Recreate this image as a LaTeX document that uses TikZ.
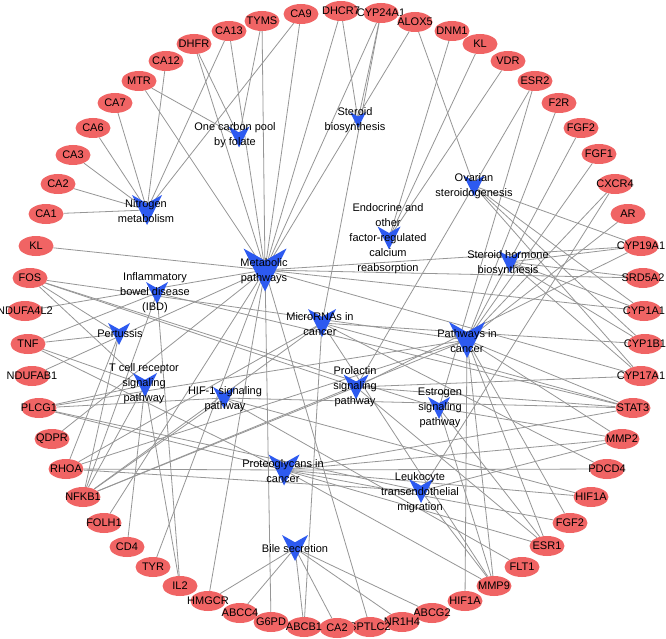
\documentclass[tikz,border=0pt]{standalone}
\usepackage{fontspec}
\setmainfont{Liberation Sans}
\usetikzlibrary{shapes.geometric}
\definecolor{nodered}{RGB}{240,100,100}
\definecolor{vblue}{RGB}{45,90,240}
\definecolor{edgegray}{RGB}{150,150,150}
\pgfdeclarelayer{edgelayer}
\pgfdeclarelayer{bglayer}
\pgfsetlayers{bglayer,edgelayer,main}
\newcommand{\gn}[4]{\node[gene, label={[genetext]center:#4}] (#1) at (#2,#3) {};}
\newcommand{\pw}[7]{%
  \coordinate (#1) at (#2,#3);
  \fill[vblue, shift={(#2,#3)}, scale=#4] (-0.5,-0.5) -- (0,-0.22) -- (0.5,-0.5) -- (0,0.5) -- cycle;
  \node[pwtext] (#1-l) at (#5,#6) {#7};}
\begin{document}
\begin{tikzpicture}[x=1pt,y=-1pt,
  gene/.style={ellipse, fill=nodered, minimum width=35pt, minimum height=20pt, inner sep=0pt},
  genetext/.style={font=\fontsize{11}{13}\selectfont, text=black, inner sep=0pt},
  pwtext/.style={font=\fontsize{11}{15}\selectfont, align=center, inner sep=0pt, text=black},
  edge/.style={draw=edgegray, line width=0.8pt}]
\begin{pgfonlayer}{bglayer}
\fill[white] (0,0) rectangle (666,639);
\end{pgfonlayer}
\useasboundingbox (0,0) rectangle (666,639);
% genes
\gn{dhcr7}{341}{11}{DHCR7}
\gn{cyp24}{381}{13}{CYP24A1}
\gn{alox5}{415}{22}{ALOX5}
\gn{dnm1}{452}{31}{DNM1}
\gn{klr}{480}{44}{KL}
\gn{vdr}{508}{61}{VDR}
\gn{esr2}{535}{81}{ESR2}
\gn{f2r}{559}{103}{F2R}
\gn{fgfa}{581}{128}{FGF2}
\gn{fgf1}{599}{154}{FGF1}
\gn{cxcr4}{615}{184}{CXCR4}
\gn{ar}{628}{214}{AR}
\gn{cyp19}{641}{246}{CYP19A1}
\gn{srd}{643}{278}{SRD5A2}
\gn{cyp1a}{644}{311}{CYP1A1}
\gn{cyp1b}{645}{344}{CYP1B1}
\gn{cyp17}{641}{376}{CYP17A1}
\gn{stat3}{633}{408}{STAT3}
\gn{mmp2}{622}{439}{MMP2}
\gn{pdcd4}{607}{469}{PDCD4}
\gn{hifa}{591}{497}{HIF1A}
\gn{fgfb}{570}{523}{FGF2}
\gn{esr1}{547}{546}{ESR1}
\gn{flt1}{522}{567}{FLT1}
\gn{mmp9}{494}{586}{MMP9}
\gn{hifb}{465}{601}{HIF1A}
\gn{abcg2}{432}{613}{ABCG2}
\gn{nr1h4}{402}{622}{NR1H4}
\gn{sptlc2}{370}{627}{SPTLC2}
\gn{cab}{337}{628}{CA2}
\gn{abcb1}{304}{627}{ABCB1}
\gn{g6pd}{271}{622}{G6PD}
\gn{abcc4}{240}{613}{ABCC4}
\gn{hmgcr}{208}{601}{HMGCR}
\gn{il2}{180}{586}{IL2}
\gn{tyr}{153}{567}{TYR}
\gn{cd4}{127}{547}{CD4}
\gn{folh1}{104}{523}{FOLH1}
\gn{nfkb1}{83}{497}{NFKB1}
\gn{rhoa}{66}{469}{RHOA}
\gn{qdpr}{52}{439}{QDPR}
\gn{plcg1}{39}{408}{PLCG1}
\gn{ndufab1}{32}{376}{NDUFAB1}
\gn{tnf}{28}{344}{TNF}
\gn{ndufa}{25}{311}{NDUFA4L2}
\gn{fos}{30}{278}{FOS}
\gn{kll}{36}{246}{KL}
\gn{ca1}{46}{214}{CA1}
\gn{caa}{58}{184}{CA2}
\gn{ca3}{73}{155}{CA3}
\gn{ca6}{93}{128}{CA6}
\gn{ca7}{115}{103}{CA7}
\gn{mtr}{139}{81}{MTR}
\gn{ca12}{166}{61}{CA12}
\gn{dhfr}{194}{44}{DHFR}
\gn{ca13}{229}{31}{CA13}
\gn{tyms}{262}{21}{TYMS}
\gn{ca9}{301}{14}{CA9}
% pathways
\pw{nit}{147}{210}{30}{146}{211}{Nitrogen\\metabolism}
\pw{onec}{239}{137}{21}{235}{135}{One carbon pool\\by folate}
\pw{sterb}{358}{120}{16}{355}{120}{Steroid\\biosynthesis}
\pw{ovar}{474}{186}{21}{474}{186}{Ovarian\\steroidogenesis}
\pw{endo}{389}{238}{23}{388}{239}{Endocrine and\\other\\factor-regulated\\calcium\\reabsorption}
\pw{meta}{265}{270}{43}{264}{271}{Metabolic\\pathways}
\pw{sthr}{510}{262}{22}{508}{263}{Steroid hormone\\biosynthesis}
\pw{ibd}{157}{293}{22}{155}{293}{Inflammatory\\bowel disease\\(IBD)}
\pw{mir}{322}{323}{28}{320}{324}{MicroRNAs in\\cancer}
\pw{pic}{467}{340}{36}{467}{341}{Pathways in\\cancer}
\pw{pert}{119}{334}{22}{120}{334}{Pertussis}
\pw{tcr}{145}{385}{24}{144}{384}{T cell receptor\\signaling\\pathway}
\pw{hif}{224}{398}{22}{225}{399}{HIF-1 signaling\\pathway}
\pw{prl}{356}{387}{25}{355}{387}{Prolactin\\signaling\\pathway}
\pw{est}{439}{408}{22}{440}{408}{Estrogen\\signaling\\pathway}
\pw{pg}{284}{470}{31}{283}{471}{Proteoglycans in\\cancer}
\pw{leuk}{421}{491}{24}{420}{493}{Leukocyte\\transendothelial\\migration}
\pw{bile}{295}{548}{26}{295}{549}{Bile secretion}
% edges
\begin{pgfonlayer}{edgelayer}
\foreach \a/\b in {
 nit/ca1, nit/caa, nit/ca3, nit/ca6, nit/ca7, nit/ca12, nit/ca13, nit/ca9,
 onec/mtr, onec/dhfr, onec/tyms,
 sterb/dhcr7, sterb/cyp24,
 meta/mtr, meta/dhfr, meta/ca13, meta/tyms, meta/ca9, meta/dhcr7, meta/cyp24, meta/alox5,
 meta/cyp19, meta/srd, meta/cyp1a, meta/cyp17, meta/sptlc2, meta/g6pd, meta/hmgcr, meta/tyr,
 meta/folh1, meta/qdpr, meta/ndufab1, meta/ndufa, meta/kll,
 endo/dnm1, endo/klr, endo/vdr,
 ovar/alox5, ovar/cyp19, ovar/cyp1a, ovar/cyp1b, ovar/cyp17,
 sthr/cyp19, sthr/srd, sthr/cyp1a, sthr/cyp1b, sthr/cyp17,
 pic/f2r, pic/fgfa, pic/fgf1, pic/cxcr4, pic/ar, pic/stat3, pic/mmp2, pic/fgfb, pic/esr1,
 pic/mmp9, pic/hifb, pic/rhoa, pic/nfkb1, pic/plcg1, pic/fos,
 mir/cyp24, mir/cyp1b, mir/stat3, mir/pdcd4, mir/abcb1, mir/mmp9, mir/nfkb1, mir/rhoa,
 ibd/tnf, ibd/nfkb1, ibd/stat3, ibd/il2,
 pert/fos, pert/tnf, pert/nfkb1, pert/rhoa,
 tcr/fos, tcr/tnf, tcr/nfkb1, tcr/plcg1, tcr/cd4, tcr/il2,
 hif/nfkb1, hif/plcg1, hif/stat3, hif/hifa, hif/flt1,
 prl/esr2, prl/esr1, prl/stat3, prl/nfkb1, prl/fos, prl/cyp17, prl/cyp19,
 est/esr2, est/esr1, est/fos, est/mmp2, est/mmp9,
 pg/fgfb, pg/stat3, pg/mmp2, pg/mmp9, pg/esr1, pg/hifa, pg/rhoa, pg/plcg1, pg/tnf, pg/pdcd4,
 leuk/rhoa, leuk/plcg1, leuk/mmp2, leuk/mmp9, leuk/cxcr4,
 bile/hmgcr, bile/abcc4, bile/abcb1, bile/cab, bile/nr1h4, bile/abcg2}
 \draw[edge] (\a) -- (\b);
\end{pgfonlayer}
\end{tikzpicture}
\end{document}
